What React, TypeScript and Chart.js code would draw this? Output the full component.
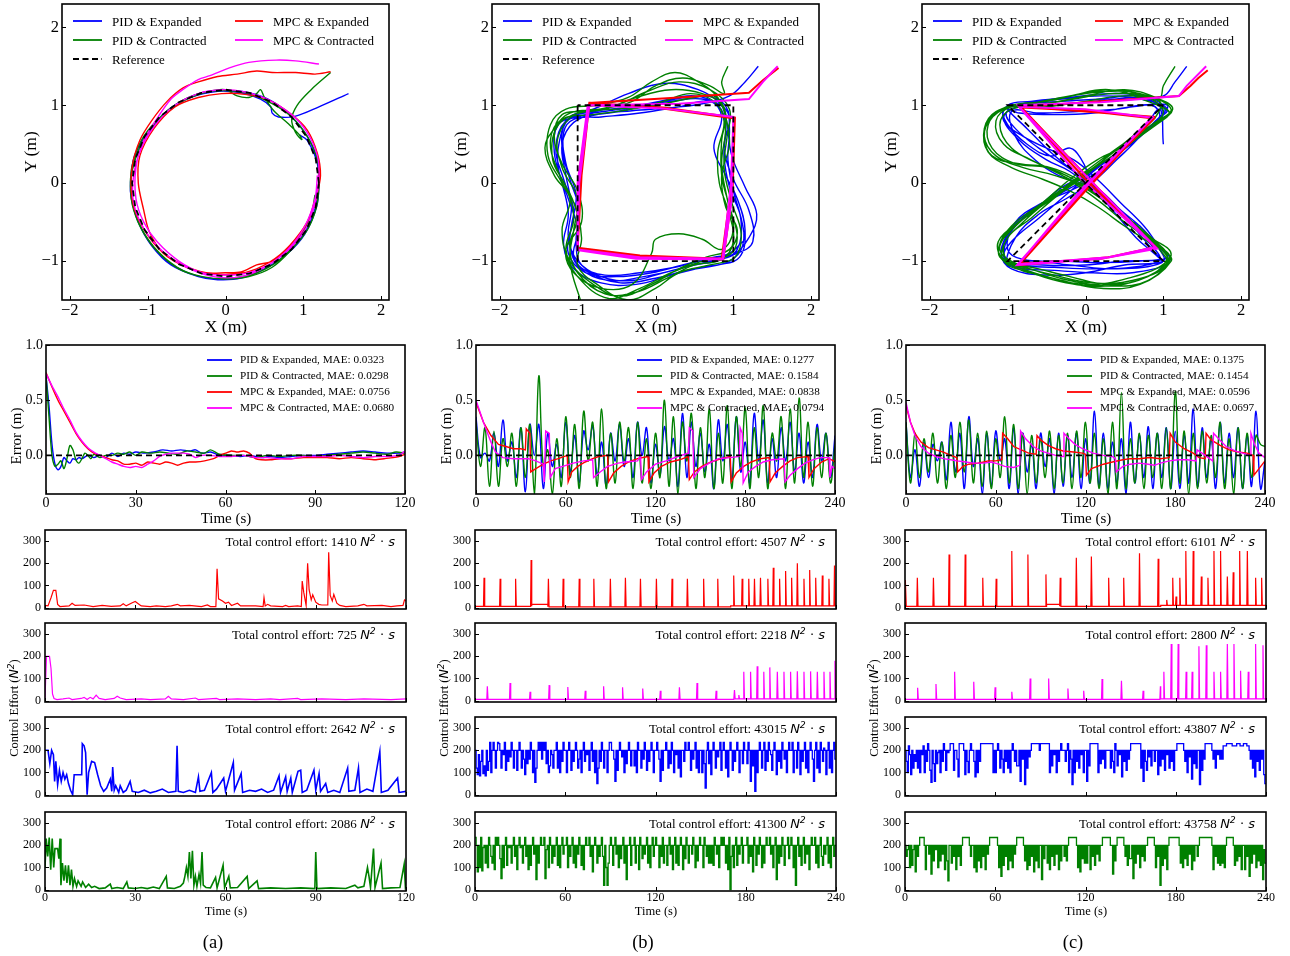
import React, { useEffect, useRef } from "react";
import { Chart, registerables } from "chart.js";
Chart.register(...registerables);

type Pt = [number, number];

const BLUE = "#0000ff";
const GREEN = "#008000";
const RED = "#ff0000";
const MAGENTA = "#ff00ff";
const SERIF = '"Liberation Serif", "Times New Roman", serif';
const MATH = '"DejaVu Sans", sans-serif';

// ---------- tick values ----------
const TRAJ_X_TICKS = [-2, -1, 0, 1, 2];
const TRAJ_Y_TICKS = [-1, 0, 1, 2];
const ERR_Y_TICKS = [0, 0.5, 1.0];
const TIME_TICKS_A = [0, 30, 60, 90, 120];
const TIME_TICKS_BC = [0, 60, 120, 180, 240];
const CTRL_Y_TICKS = [0, 100, 200, 300];

// ---------- legend / annotation text ----------
const SERIES_NAMES = ["PID & Expanded", "PID & Contracted", "MPC & Expanded", "MPC & Contracted"];
const MAE_A = ["0.0323", "0.0298", "0.0756", "0.0680"];
const MAE_B = ["0.1277", "0.1584", "0.0838", "0.0794"];
const MAE_C = ["0.1375", "0.1454", "0.0596", "0.0697"];
const EFFORT_A = [1410, 725, 2642, 2086];
const EFFORT_B = [4507, 2218, 43015, 41300];
const EFFORT_C = [6101, 2800, 43807, 43758];
const PANEL_TAGS = ["(a)", "(b)", "(c)"];

// ---------- trajectories: column (a) circle ----------
const TRAJ_A_REF: Pt[] = [[1.2,0],[1.159,0.311],[1.039,0.6],[0.849,0.849],[0.6,1.039],[0.311,1.159],[0,1.2],[-0.311,1.159],[-0.6,1.039],[-0.849,0.849],[-1.039,0.6],[-1.159,0.311],[-1.2,0],[-1.159,-0.311],[-1.039,-0.6],[-0.849,-0.849],[-0.6,-1.039],[-0.311,-1.159],[0,-1.2],[0.311,-1.159],[0.6,-1.039],[0.849,-0.849],[1.039,-0.6],[1.159,-0.311],[1.2,0]];
const TRAJ_A_BLUE: Pt[] = [[1.58,1.15],[1.2,0.98],[0.9,0.86],[0.68,0.85],[0.6,0.9],[0.58,0.98],[0.45,1.08],[0.2,1.16],[-0.1,1.18],[-0.45,1.1],[-0.75,0.93],[-1.0,0.65],[-1.17,0.35],[-1.22,0.0],[-1.21,-0.2],[-1.12,-0.5],[-0.95,-0.8],[-0.7,-1.05],[-0.35,-1.2],[-0.1,-1.24],[0.2,-1.22],[0.5,-1.1],[0.8,-0.9],[1.02,-0.65],[1.17,-0.3],[1.2,0.0],[1.18,0.3],[1.05,0.6],[0.85,0.85],[0.6,1.05],[0.3,1.16],[0.0,1.19],[-0.3,1.16],[-0.6,1.03],[-0.85,0.82],[-1.05,0.55],[-1.18,0.25],[-1.22,-0.05],[-1.15,-0.42],[-1.0,-0.72],[-0.75,-1.0],[-0.4,-1.18],[0.0,-1.23],[0.35,-1.17],[0.7,-0.98],[0.95,-0.73],[1.12,-0.42],[1.19,-0.1],[1.18,0.25],[1.05,0.55],[0.95,0.62]];
const TRAJ_A_GREEN: Pt[] = [[1.35,1.42],[1.1,1.2],[0.92,1.0],[0.85,0.82],[0.9,0.65],[0.98,0.56],[0.95,0.62],[0.8,0.77],[0.62,0.93],[0.5,1.1],[0.45,1.2],[0.4,1.15],[0.3,1.1],[0.15,1.12],[0.0,1.2],[-0.2,1.18],[-0.5,1.08],[-0.8,0.88],[-1.05,0.6],[-1.18,0.3],[-1.22,0.05],[-1.2,-0.25],[-1.1,-0.55],[-0.9,-0.85],[-0.6,-1.1],[-0.3,-1.2],[0.0,-1.23],[0.3,-1.2],[0.6,-1.08],[0.85,-0.85],[1.05,-0.6],[1.17,-0.3],[1.2,0.0],[1.18,0.3],[1.05,0.6],[0.85,0.85],[0.6,1.02],[0.3,1.15],[0.0,1.19],[-0.3,1.16],[-0.62,1.02],[-0.88,0.8],[-1.08,0.5],[-1.2,0.15],[-1.21,-0.2],[-1.12,-0.5],[-0.92,-0.82],[-0.62,-1.08],[-0.3,-1.2],[0.05,-1.22],[0.4,-1.15],[0.7,-0.98],[0.95,-0.7],[1.1,-0.4],[1.15,-0.15]];
const TRAJ_A_RED: Pt[] = [[1.35,1.43],[1.15,1.4],[0.9,1.42],[0.6,1.42],[0.4,1.44],[0.15,1.4],[-0.1,1.37],[-0.35,1.3],[-0.55,1.22],[-0.75,1.05],[-0.95,0.8],[-1.1,0.55],[-1.2,0.2],[-1.2,-0.2],[-1.1,-0.5],[-0.85,-0.85],[-0.55,-1.05],[-0.25,-1.15],[0.0,-1.15],[0.2,-1.14],[0.4,-1.05],[0.6,-1.0],[0.85,-0.8],[1.05,-0.5],[1.17,-0.15],[1.22,0.1],[1.18,0.38],[1.05,0.68],[0.85,0.88],[0.55,1.07],[0.25,1.14],[-0.05,1.15],[-0.35,1.1],[-0.65,0.98],[-0.92,0.7],[-1.1,0.35],[-1.12,0.0],[-1.05,-0.35],[-0.98,-0.62],[-0.8,-0.9],[-0.5,-1.08],[-0.2,-1.16],[0.1,-1.17],[0.4,-1.1],[0.7,-0.92],[0.95,-0.65],[1.12,-0.35],[1.2,0.0],[1.2,0.3]];
const TRAJ_A_MAGENTA: Pt[] = [[1.2,1.53],[0.9,1.57],[0.65,1.58],[0.3,1.55],[0.05,1.48],[-0.2,1.38],[-0.35,1.33],[-0.55,1.2],[-0.7,1.08],[-0.9,0.8],[-1.05,0.55],[-1.15,0.2],[-1.15,-0.2],[-1.05,-0.5],[-0.88,-0.75],[-0.6,-1.0],[-0.3,-1.15],[0.0,-1.18],[0.3,-1.15],[0.6,-1.02],[0.85,-0.82],[1.05,-0.55],[1.15,-0.25],[1.2,0.05],[1.18,0.35],[1.05,0.65],[0.85,0.88],[0.55,1.07],[0.25,1.17],[-0.05,1.2],[-0.35,1.15],[-0.65,1.0],[-0.9,0.75],[-1.08,0.45],[-1.18,0.1],[-1.18,-0.25],[-1.05,-0.58],[-0.8,-0.88],[-0.5,-1.08],[-0.15,-1.2],[0.2,-1.2],[0.5,-1.08],[0.8,-0.85],[1.02,-0.55],[1.15,-0.2],[1.18,0.1]];

// ---------- trajectories: column (b) square ----------
const TRAJ_B_REF: Pt[] = [[-1,1],[-1,-1],[1,-1],[1,1],[-1,1]];
const TRAJ_B_BLUE: Pt[] = [[1.32,1.5],[1.15,1.3],[0.95,1.12],[0.6,1.02],[0.2,0.97],[-0.3,0.93],[-0.75,0.88],[-1.05,0.78],[-1.2,0.5],[-1.15,0.1],[-1.08,-0.3],[-1.12,-0.7],[-1.0,-1.0],[-0.7,-1.2],[-0.3,-1.25],[0.1,-1.15],[0.5,-1.05],[0.85,-0.98],[1.05,-0.85],[1.1,-0.5],[1.0,-0.1],[0.93,0.3],[0.95,0.7],[0.9,0.95],
  [0.6,1.08],[0.2,1.05],[-0.3,0.98],[-0.8,0.92],[-1.15,0.8],[-1.28,0.45],[-1.18,0.05],[-1.05,-0.35],[-1.1,-0.75],[-0.98,-1.08],[-0.6,-1.25],[-0.15,-1.2],[0.3,-1.1],[0.7,-1.0],[1.0,-0.92],[1.2,-0.7],[1.3,-0.4],[1.15,-0.05],[0.98,0.35],[0.92,0.75],[0.85,1.0],
  [0.55,1.2],[0.1,1.28],[-0.35,1.15],[-0.8,0.95],[-1.1,0.85],[-1.22,0.6],[-1.25,0.2],[-1.12,-0.2],[-1.0,-0.6],[-1.05,-0.95],[-0.85,-1.15],[-0.45,-1.28],[0.0,-1.22],[0.4,-1.12],[0.8,-1.05],[1.08,-0.95],[1.15,-0.6],[1.05,-0.2],[0.9,0.1],[0.75,0.45],[0.85,0.85],
  [0.7,1.05],[0.3,0.98],[-0.2,0.9],[-0.7,0.85],[-1.05,0.82],[-1.18,0.65],[-1.15,0.25],[-1.02,-0.15],[-1.08,-0.55],[-1.12,-0.9],[-0.9,-1.15],[-0.5,-1.2],[-0.05,-1.15],[0.35,-1.05],[0.75,-0.95],[1.05,-0.9],[1.25,-0.75],[1.2,-0.35],[1.0,0.05],[0.88,0.45],[0.95,0.85],
  [0.8,1.08],[0.4,1.1],[-0.1,1.0],[-0.6,0.9],[-1.0,0.85],[-1.25,0.75],[-1.3,0.4],[-1.2,0.0],[-1.12,-0.4],[-1.18,-0.8],[-1.05,-1.1],[-0.7,-1.28],[-0.25,-1.3],[0.2,-1.18],[0.6,-1.08],[0.95,-1.0],[1.12,-0.8],[1.1,-0.45],[0.95,-0.05],[0.88,0.35],[0.9,0.75],[0.8,1.0],
  [0.5,1.12],[0.05,1.05],[-0.45,0.95],[-0.9,0.88],[-1.15,0.78],[-1.2,0.45],[-1.1,0.05],[-0.98,-0.35],[-1.02,-0.75],[-0.95,-1.05],[-0.65,-1.18],[-0.2,-1.15],[0.25,-1.08],[0.65,-0.98],[0.95,-0.9],[1.12,-0.75]];
const TRAJ_B_GREEN: Pt[] = [[0.93,1.5],[0.85,1.3],[0.88,1.15],[0.7,1.25],[0.35,1.35],[0.0,1.25],[-0.3,1.05],[-0.7,0.95],[-1.1,0.9],[-1.3,0.7],[-1.42,0.45],[-1.3,0.1],[-1.1,-0.2],[-1.2,-0.6],[-1.1,-1.0],[-0.8,-1.3],[-0.45,-1.45],[-0.05,-1.3],[0.3,-1.1],[0.65,-0.95],[0.95,-0.85],[1.05,-0.6],[0.9,-0.3],[0.85,0.1],[0.95,0.5],[0.9,0.85],[0.8,1.1],
  [0.55,1.3],[0.25,1.42],[-0.05,1.3],[-0.35,1.1],[-0.75,1.0],[-1.15,0.95],[-1.35,0.75],[-1.38,0.35],[-1.2,0.0],[-1.0,-0.4],[-1.1,-0.8],[-1.0,-1.15],[-0.65,-1.42],[-0.25,-1.4],[0.15,-1.22],[0.5,-1.05],[0.85,-0.98],[1.0,-0.75],[0.95,-0.4],[0.82,0.0],[0.8,0.4],[0.88,0.8],[0.75,1.05],
  [0.45,1.15],[0.1,1.05],[-0.3,0.95],[-0.8,0.88],[-1.2,0.82],[-1.35,0.55],[-1.25,0.15],[-1.05,-0.25],[-0.95,-0.7],[-1.0,-1.05],[-0.75,-1.3],[-0.35,-1.5],[0.0,-1.35],[0.3,-1.15],[0.7,-1.05],[1.02,-0.95],[1.1,-0.65],[0.98,-0.25],[0.88,0.2],[0.92,0.6],[0.95,0.95],
  [0.7,1.2],[0.3,1.3],[-0.1,1.18],[-0.5,1.0],[-0.9,0.92],[-1.2,0.88],[-1.3,0.6],[-1.2,0.25],[-1.0,-0.1],[-0.95,-0.5],[-1.15,-0.85],[-1.05,-1.15],[-0.7,-1.35],[-0.3,-1.3],[-0.05,-0.9],[0.0,-0.72],[0.3,-0.65],[0.6,-0.72],[0.85,-0.85],[1.0,-0.6],[0.92,-0.2],[0.85,0.25],[0.9,0.7],[0.85,1.0],
  [0.6,1.15],[0.2,1.2],[-0.25,1.1],[-0.65,0.95],[-1.05,0.88],[-1.28,0.7],[-1.32,0.3],[-1.15,-0.05],[-1.05,-0.45],[-1.15,-0.85],[-1.0,-1.2],[-0.6,-1.48],[-0.2,-1.35],[0.2,-1.15],[0.6,-1.0],[0.95,-0.92],[1.05,-0.7],[0.95,-0.3],[0.85,0.1],[0.85,0.55],[0.9,0.9],[0.75,1.12],
  [0.5,1.1],[0.0,1.0],[-0.5,0.95],[-1.0,0.9],[-1.25,0.6],[-1.2,0.2],[-1.0,-0.2],[-1.05,-0.6],[-1.1,-1.0],[-0.95,-1.55]];
const TRAJ_B_RED: Pt[] = [[1.58,1.48],[1.38,1.32],[1.2,1.16],[0.3,1.1],[-0.85,1.03],[-0.97,0.2],[-1.0,-0.83],[-0.2,-0.93],[0.85,-0.97],[0.98,0.0],[1.02,0.83],[0.0,0.97],[-0.85,1.03],[-0.95,0.1],[-1.0,-0.84],[-0.15,-0.95],[0.87,-0.98],[0.99,-0.1],[1.02,0.84],[0.1,0.97],[-0.86,1.02]];
const TRAJ_B_MAGENTA: Pt[] = [[1.57,1.5],[1.5,1.43],[1.38,1.3],[1.2,1.08],[0.3,1.02],[-0.87,1.0],[-1.0,0.0],[-1.0,-0.85],[-0.2,-0.95],[0.87,-0.97],[0.98,-0.2],[1.0,0.85],[0.1,0.96],[-0.85,1.0],[-0.98,0.0],[-1.0,-0.86],[-0.25,-0.97],[0.86,-0.98],[0.97,0.0],[1.0,0.83]];

// ---------- trajectories: column (c) hourglass ----------
const TRAJ_C_REF: Pt[] = [[1,1],[-1,1],[1,-1],[-1,-1],[1,1]];
const TRAJ_C_BLUE: Pt[] = [[1.3,1.5],[1.15,1.3],[1.0,1.12],[0.6,1.1],[0.1,1.05],[-0.4,1.0],[-0.85,0.98],[-1.02,0.9],[-0.9,0.7],[-0.6,0.45],[-0.3,0.25],[0.0,0.05],[0.3,-0.2],[0.6,-0.5],[0.85,-0.8],[0.95,-0.98],[0.6,-1.08],[0.1,-1.1],[-0.4,-1.08],[-0.85,-1.05],[-1.05,-0.95],[-0.95,-0.75],[-0.6,-0.45],[-0.25,-0.15],[0.1,0.15],[0.5,0.45],[0.85,0.75],[1.02,0.95],
  [0.7,1.08],[0.2,1.12],[-0.3,1.08],[-0.8,1.02],[-1.05,0.95],[-1.0,0.75],[-0.75,0.5],[-0.45,0.35],[-0.2,0.45],[-0.05,0.3],[0.1,0.0],[0.4,-0.3],[0.75,-0.6],[0.95,-0.85],[1.0,-1.0],[0.5,-1.05],[0.0,-1.15],[-0.5,-1.18],[-0.95,-1.1],[-1.08,-0.9],[-0.95,-0.6],[-0.6,-0.3],[-0.3,-0.05],[0.0,0.1],[0.35,0.35],[0.7,0.6],[0.95,0.85],
  [0.85,1.0],[0.4,0.95],[-0.1,0.92],[-0.6,0.9],[-0.95,0.92],[-0.9,0.6],[-0.65,0.3],[-0.35,0.1],[0.05,-0.05],[0.35,-0.35],[0.65,-0.7],[0.9,-0.92],[0.95,-0.98],[0.5,-1.0],[0.0,-1.05],[-0.55,-1.05],[-1.0,-1.0],[-1.02,-0.75],[-0.8,-0.45],[-0.45,-0.2],[-0.1,0.05],[0.3,0.3],[0.65,0.55],[0.9,0.8],[1.05,0.95],
  [0.7,1.12],[0.2,1.08],[-0.3,1.05],[-0.8,1.0],[-1.05,0.85],[-0.85,0.55],[-0.5,0.3],[-0.2,0.15],[0.2,-0.15],[0.5,-0.45],[0.7,-0.55],[0.85,-0.75],[1.05,-0.95],[0.7,-1.0],[0.2,-1.02],[-0.3,-1.0],[-0.8,-0.98],[-1.0,-0.85],[-0.9,-0.5],[-0.55,-0.25],[-0.2,-0.1],[0.15,0.1],[0.45,0.4],[0.8,0.7],[1.0,0.9],
  [0.75,1.1],[0.3,1.15],[-0.2,1.1],[-0.7,1.05],[-1.0,1.0],[-1.05,0.8],[-0.8,0.6],[-0.5,0.45],[-0.15,0.3],[0.15,0.05],[0.45,-0.25],[0.75,-0.55],[0.9,-0.75],[1.08,-1.0],[0.6,-1.15],[0.1,-1.15],[-0.4,-1.12],[-0.9,-1.08],[-1.08,-0.95],[-1.0,-0.65],[-0.7,-0.35],[-0.35,-0.15],[0.0,0.05],[0.3,0.25],[0.6,0.55],[0.88,0.78],[1.05,1.0],
  [0.6,0.98],[0.1,0.9],[-0.4,0.88],[-0.85,0.9],[-1.0,0.95],[-0.75,0.7],[-0.45,0.4],[-0.15,0.15],[0.2,-0.1],[0.45,-0.35],[0.65,-0.6],[0.88,-0.88],[0.98,-1.02],[0.4,-1.1],[-0.2,-1.05],[-0.7,-1.0],[-1.0,-1.05],[-0.9,-0.7],[-0.6,-0.4],[-0.25,-0.2],[0.1,0.02],[0.4,0.3],[0.7,0.6],[0.95,0.95],[1.0,0.5]];
const TRAJ_C_GREEN: Pt[] = [[1.15,1.5],[1.0,1.25],[0.95,1.1],[0.5,1.18],[0.0,1.15],[-0.5,1.05],[-0.95,1.0],[-1.2,0.85],[-1.3,0.6],[-1.15,0.35],[-0.8,0.2],[-0.4,0.1],[0.0,-0.05],[0.35,-0.3],[0.65,-0.55],[0.9,-0.75],[1.05,-0.95],[0.8,-1.2],[0.3,-1.3],[-0.2,-1.2],[-0.6,-1.1],[-1.0,-1.0],[-1.12,-0.85],[-0.95,-0.6],[-0.6,-0.3],[-0.2,0.0],[0.2,0.3],[0.55,0.55],[0.85,0.75],[1.08,0.9],
  [0.8,1.05],[0.3,1.2],[-0.2,1.12],[-0.7,1.02],[-1.05,0.95],[-1.25,0.75],[-1.2,0.45],[-0.9,0.25],[-0.5,0.2],[-0.15,0.0],[0.2,-0.25],[0.5,-0.5],[0.8,-0.7],[1.0,-0.85],[1.1,-1.0],[0.7,-1.3],[0.2,-1.35],[-0.3,-1.25],[-0.75,-1.12],[-1.1,-0.95],[-1.05,-0.7],[-0.8,-0.45],[-0.45,-0.2],[-0.1,0.05],[0.3,0.35],[0.6,0.6],[0.9,0.85],
  [0.95,1.05],[0.5,1.12],[0.0,1.05],[-0.5,0.98],[-0.95,0.95],[-1.1,0.75],[-0.95,0.45],[-0.6,0.25],[-0.25,0.1],[0.1,-0.1],[0.45,-0.4],[0.75,-0.65],[0.95,-0.85],[1.05,-1.05],[0.6,-1.25],[0.1,-1.28],[-0.4,-1.18],[-0.85,-1.05],[-1.1,-0.85],[-0.95,-0.55],[-0.55,-0.25],[-0.2,0.05],[0.15,0.3],[0.55,0.5],[0.85,0.75],[1.1,0.95],
  [0.7,1.15],[0.2,1.18],[-0.3,1.1],[-0.8,1.0],[-1.15,0.92],[-1.3,0.7],[-1.25,0.4],[-0.95,0.2],[-0.55,0.05],[-0.2,-0.1],[0.15,-0.3],[0.5,-0.55],[0.8,-0.75],[1.08,-0.95],[0.75,-1.22],[0.25,-1.32],[-0.25,-1.28],[-0.7,-1.15],[-1.05,-1.0],[-1.0,-0.7],[-0.7,-0.45],[-0.35,-0.15],[0.0,0.1],[0.35,0.4],[0.7,0.65],[1.0,0.9],
  [0.8,1.1],[0.35,1.15],[-0.15,1.08],[-0.65,1.0],[-1.0,0.98],[-1.22,0.85],[-1.3,0.6],[-1.2,0.35],[-0.85,0.25],[-0.45,0.2],[-0.1,0.05],[0.25,-0.2],[0.55,-0.45],[0.85,-0.7],[1.1,-0.92],[0.8,-1.25],[0.3,-1.32],[-0.2,-1.25],[-0.65,-1.12],[-1.05,-0.98],[-1.12,-0.75],[-0.85,-0.5],[-0.5,-0.25],[-0.15,0.0],[0.2,0.25],[0.5,0.45],[0.85,0.72],[1.12,0.95],[0.9,1.1],
  [0.5,1.2],[0.0,1.12],[-0.5,1.02],[-0.95,0.98],[-1.15,0.8],[-1.05,0.5],[-0.7,0.3],[-0.3,0.1],[0.05,-0.1],[0.4,-0.35],[0.7,-0.6],[0.95,-0.82],[1.05,-1.0],[0.55,-1.22],[0.0,-1.3],[-0.5,-1.2],[-0.95,-1.05],[-1.05,-0.8],[-0.8,-0.5],[-0.45,-0.2],[-0.05,0.1],[0.35,0.35],[0.7,0.6],[1.05,0.85]];
const TRAJ_C_RED: Pt[] = [[1.57,1.45],[1.45,1.35],[1.35,1.25],[1.2,1.12],[0.2,1.05],[-0.85,0.98],[0.0,0.05],[0.9,-0.82],[0.3,-0.95],[-0.85,-1.05],[0.0,-0.1],[0.88,0.85],[0.0,0.92],[-0.83,0.98],[0.05,0.05],[0.9,-0.83],[0.2,-0.97],[-0.85,-1.03],[0.02,-0.05],[0.88,0.83],[0.0,0.93],[-0.82,0.97]];
const TRAJ_C_MAGENTA: Pt[] = [[1.55,1.5],[1.3,1.25],[1.2,1.12],[0.2,1.04],[-0.87,1.0],[-0.05,0.05],[0.92,-0.84],[0.2,-0.97],[-0.88,-1.05],[0.05,0.0],[0.86,0.84],[0.0,0.95],[-0.85,0.98],[0.02,0.08],[0.9,-0.82],[0.3,-0.95],[-0.86,-1.04],[-0.03,-0.05],[0.87,0.86]];

// ---------- tracking error ----------
const ERR_REF_A: Pt[] = [[0,0],[120,0]];
const ERR_REF_BC: Pt[] = [[0,0],[240,0]];
const ERR_A_BLUE: Pt[] = [[0,0.72],[1,0.45],[2,0.1],[3,-0.08],[4,-0.13],[5,-0.1],[6,-0.02],[7,-0.05],[8,-0.07],[9,-0.03],[10,-0.04],[11,-0.02],[12,-0.03],[14,0.0],[16,-0.02],[18,0.0],[20,-0.02],[22,0.02],[24,-0.01],[26,0.02],[28,0.01],[30,0.03],[33,0.02],[36,0.03],[39,0.05],[42,0.04],[45,0.05],[48,0.04],[50,0.05],[52,0.02],[55,0.03],[58,0.0],[62,0.0],[65,-0.01],[68,0.0],[72,-0.02],[75,-0.01],[78,-0.02],[82,-0.01],[86,0.0],[90,0.0],[94,0.01],[98,0.02],[102,0.03],[106,0.04],[110,0.03],[114,0.02],[118,0.02],[120,0.03]];
const ERR_A_GREEN: Pt[] = [[0,0.72],[1,0.35],[2,0.0],[3,-0.1],[4,-0.08],[5,-0.05],[6,-0.12],[7,-0.03],[8,0.09],[9,0.05],[10,-0.04],[11,-0.07],[12,-0.03],[13,0.02],[14,0.0],[15,-0.03],[16,0.01],[18,-0.02],[20,0.0],[22,0.0],[24,0.02],[26,0.01],[28,0.03],[30,0.0],[32,0.03],[35,0.02],[38,0.03],[41,0.02],[44,0.01],[47,0.04],[50,0.03],[53,0.02],[55,0.05],[58,0.01],[62,0.0],[66,0.0],[70,-0.02],[74,0.0],[78,-0.01],[82,0.0],[86,0.0],[90,-0.01],[94,0.0],[98,0.01],[102,0.02],[106,0.03],[110,0.02],[114,0.01],[117,0.03],[120,0.02]];
const ERR_A_RED: Pt[] = [[0,0.75],[2,0.62],[4,0.5],[6,0.4],[8,0.3],[10,0.2],[12,0.12],[14,0.06],[16,0.02],[18,0.0],[20,-0.02],[22,-0.04],[24,-0.05],[26,-0.08],[28,-0.08],[30,-0.07],[32,-0.09],[34,-0.06],[36,-0.07],[38,-0.08],[40,-0.06],[42,-0.07],[44,-0.09],[46,-0.07],[48,-0.06],[50,-0.06],[53,-0.05],[56,-0.03],[58,0.0],[60,0.02],[62,0.04],[64,0.03],[66,0.04],[68,0.02],[70,-0.03],[72,-0.04],[75,-0.04],[78,-0.03],[82,-0.03],[86,-0.02],[90,-0.02],[94,-0.02],[98,-0.03],[102,-0.02],[106,-0.03],[110,-0.04],[113,-0.03],[116,-0.02],[118,-0.01],[120,0.01]];
const ERR_A_MAGENTA: Pt[] = [[0,0.74],[2,0.63],[4,0.53],[6,0.42],[8,0.32],[10,0.21],[12,0.13],[14,0.07],[16,0.03],[18,0.0],[20,-0.03],[22,-0.06],[24,-0.08],[26,-0.1],[28,-0.11],[30,-0.1],[32,-0.11],[34,-0.08],[36,-0.05],[38,-0.01],[40,0.01],[42,0.02],[44,0.02],[46,0.02],[48,0.01],[50,-0.02],[52,0.0],[55,0.0],[58,-0.01],[62,-0.01],[66,0.0],[70,-0.02],[74,-0.02],[78,-0.03],[82,-0.03],[86,-0.01],[90,-0.01],[94,-0.01],[98,0.0],[102,-0.01],[106,-0.02],[110,-0.01],[114,-0.01],[118,0.0],[120,0.04]];

const ERR_STEP = 3; // seconds between samples of the PID error series below
const ERR_B_BLUE = [0.35,-0.02,0.02,-0.05,0.2,-0.1,0.32,-0.05,0.12,-0.2,0.25,-0.33,0.28,0.0,0.28,-0.3,0.2,-0.1,0.1,-0.2,0.3,-0.15,0.18,-0.25,0.22,0.05,0.27,-0.18,0.12,-0.27,0.2,-0.05,0.28,-0.1,0.15,-0.2,0.3,0.0,0.25,-0.25,0.1,-0.18,0.26,-0.05,0.15,-0.28,0.38,-0.2,0.3,-0.1,0.2,-0.15,0.1,-0.3,0.32,-0.05,0.28,-0.22,0.35,-0.15,0.12,-0.25,0.38,-0.05,0.32,-0.25,0.15,-0.2,0.25,-0.05,0.3,-0.15,0.2,-0.25,0.12,-0.2,0.28,-0.05,0.2,-0.2,0.18];
const ERR_B_GREEN = [0.3,-0.1,0.25,-0.28,0.22,-0.28,0.15,-0.1,0.2,-0.28,0.25,-0.2,0.28,-0.35,0.72,-0.1,0.05,-0.35,0.15,-0.28,0.35,-0.2,0.28,-0.3,0.4,-0.05,0.3,-0.28,0.42,-0.3,0.2,-0.25,0.3,-0.05,0.25,-0.3,0.3,-0.25,0.15,-0.3,0.2,-0.2,0.5,-0.28,0.35,-0.35,0.3,-0.05,0.38,-0.3,0.25,-0.2,0.42,-0.3,0.2,-0.25,0.45,-0.3,0.35,-0.1,0.43,-0.3,0.25,-0.2,0.45,-0.3,0.2,-0.05,0.35,-0.3,0.42,-0.25,0.52,-0.2,0.3,-0.28,0.25,-0.2,0.2,-0.25,0.1];
const ERR_B_RED: Pt[] = [[0,0.48],[5,0.3],[10,0.18],[15,0.1],[20,0.08],[25,0.06],[30,0.06],[33,0.05],[33.6,0.24],[36,0.2],[36.6,-0.15],[40,-0.12],[45,-0.08],[50,-0.05],[55,-0.03],[61,0.0],[61.6,-0.24],[64,-0.15],[68,-0.1],[73,-0.06],[78,-0.03],[82,-0.01],[88,0.0],[88.6,-0.24],[92,-0.16],[97,-0.1],[102,-0.06],[108,-0.03],[115,-0.01],[115.6,-0.24],[119,-0.16],[124,-0.1],[130,-0.06],[136,-0.04],[142,-0.01],[142.6,-0.22],[146,-0.15],[151,-0.1],[157,-0.06],[164,-0.03],[170,-0.01],[170.6,-0.24],[174,-0.16],[179,-0.1],[184,-0.06],[190,-0.03],[196,-0.02],[196.6,-0.24],[200,-0.16],[205,-0.1],[210,-0.05],[215,-0.02],[222,-0.01],[222.6,-0.2],[226,-0.12],[231,-0.06],[236,-0.03],[239,-0.05],[240,-0.06]];
const ERR_B_MAGENTA: Pt[] = [[0,0.5],[5,0.3],[10,0.12],[13,0.03],[18,-0.02],[25,-0.03],[30,-0.03],[35,-0.03],[40,-0.05],[45,-0.08],[45.6,-0.24],[46.6,0.22],[49,0.2],[49.6,-0.2],[53,-0.12],[58,-0.1],[65,-0.07],[72,-0.05],[78,-0.04],[78.6,-0.2],[83,-0.15],[88,-0.1],[95,-0.07],[100,-0.06],[108,-0.05],[110,0.0],[110.6,-0.22],[114,-0.15],[120,-0.08],[127,-0.05],[135,-0.01],[142,0.02],[142.6,0.25],[145,0.22],[145.6,-0.2],[150,-0.12],[156,-0.07],[162,-0.03],[170,-0.02],[176,-0.01],[176.6,0.25],[178,0.2],[178.6,-0.25],[182,-0.15],[187,-0.1],[192,-0.06],[198,-0.04],[206,-0.03],[206.6,-0.24],[210,-0.18],[215,-0.12],[220,-0.07],[225,-0.04],[230,-0.02],[236,-0.02],[236.6,-0.2],[238,-0.1],[240,-0.12]];
const ERR_C_BLUE = [0.3,-0.2,0.05,-0.28,0.12,-0.2,0.1,-0.05,0.12,-0.22,0.3,-0.15,0.2,-0.3,0.35,-0.1,0.15,-0.35,0.2,-0.28,0.22,-0.05,0.15,-0.3,0.25,-0.35,0.2,-0.15,0.1,-0.3,0.2,-0.1,0.15,-0.35,0.2,-0.28,0.18,-0.2,0.2,-0.3,0.15,-0.25,0.4,-0.28,0.2,-0.3,0.12,-0.25,0.15,-0.35,0.3,-0.25,0.18,-0.2,0.26,-0.3,0.2,-0.2,0.25,-0.3,0.22,-0.3,0.18,-0.25,0.42,-0.28,0.25,-0.2,0.15,-0.3,0.3,-0.25,0.2,-0.2,0.25,-0.3,0.18,-0.28,0.4,-0.3,-0.05];
const ERR_C_GREEN = [0.3,-0.25,0.2,-0.2,0.15,-0.15,0.2,-0.25,0.12,-0.3,0.18,-0.2,0.3,-0.15,0.32,-0.25,0.2,-0.28,0.22,-0.3,0.15,-0.2,0.35,-0.25,0.28,-0.3,0.2,-0.35,0.18,-0.25,0.15,-0.2,0.22,-0.3,0.18,-0.25,0.2,-0.3,0.22,-0.2,0.3,-0.25,0.2,-0.3,0.15,-0.35,0.3,-0.3,0.57,-0.3,0.15,-0.25,0.2,-0.3,0.18,-0.2,0.2,-0.3,0.25,-0.3,0.58,-0.25,0.22,-0.35,0.2,-0.3,0.22,-0.25,0.18,-0.2,0.3,-0.3,0.15,-0.35,0.25,-0.3,0.2,-0.2,0.18,0.1,0.08];
const ERR_C_RED: Pt[] = [[0,0.45],[3,0.3],[6,0.2],[10,0.12],[15,0.07],[20,0.05],[25,0.03],[30,0.0],[34,-0.02],[34.6,-0.15],[38,-0.1],[42,-0.08],[48,-0.07],[52,-0.06],[55,-0.05],[60,-0.05],[64,-0.04],[64.6,0.2],[68,0.15],[72,0.08],[77,0.05],[82,0.02],[87,0.01],[87.6,0.18],[90,0.14],[95,0.09],[100,0.06],[105,0.04],[112,0.03],[118,0.02],[120,0.01],[120.6,-0.18],[124,-0.12],[128,-0.1],[132,-0.08],[138,-0.06],[145,-0.04],[150,-0.03],[156,-0.03],[163,-0.02],[170,-0.03],[176,-0.02],[176.6,0.2],[180,0.12],[186,0.06],[192,0.02],[196,-0.02],[200,-0.03],[200.6,0.2],[204,0.14],[210,0.09],[216,0.05],[222,0.03],[228,0.02],[232,0.0],[232.6,-0.18],[236,-0.12],[240,-0.05]];
const ERR_C_MAGENTA: Pt[] = [[0,0.48],[3,0.3],[6,0.18],[10,0.08],[15,0.02],[20,-0.01],[25,-0.03],[30,-0.04],[34,-0.05],[40,-0.06],[45,-0.07],[52,-0.07],[57,-0.06],[62,-0.08],[66,-0.1],[72,-0.11],[76,-0.09],[76.6,0.22],[80,0.15],[85,0.08],[90,0.04],[95,0.02],[100,0.0],[105,-0.01],[105.6,0.2],[109,0.15],[113,0.1],[118,0.06],[125,0.02],[132,0.0],[138,-0.01],[140,-0.03],[140.6,-0.15],[145,-0.1],[150,-0.08],[156,-0.07],[162,-0.08],[166,-0.09],[170,-0.07],[176,-0.05],[182,-0.04],[188,-0.04],[194,-0.05],[194.6,0.05],[200,0.0],[205,-0.05],[205.6,0.2],[209,0.15],[214,0.08],[220,0.04],[225,0.02],[230,0.0],[230.6,0.2],[233,0.1],[236,0.02],[240,-0.02]];

// ---------- control effort ----------
const CTRL_A_RED: Pt[] = [[0,10],[1,8],[2,45],[2.8,78],[3.6,78],[4.2,15],[5,5],[8,8],[9,20],[10,10],[13,12],[16,5],[19,10],[22,6],[25,8],[26,18],[27,8],[29,22],[30,28],[31,18],[32,8],[35,5],[37,8],[40,5],[42,8],[44,15],[45,8],[48,10],[52,5],[54,12],[55,5],[56.8,5],[57.2,175],[57.7,40],[59,30],[60,20],[61,25],[62,10],[64,20],[65,8],[70,8],[72.5,5],[72.8,45],[73.2,8],[74,15],[75,8],[79,5],[80,10],[81,5],[84,8],[85.2,5],[85.5,120],[86,70],[86.8,10],[87.3,200],[87.8,80],[88.5,35],[89,58],[90,25],[91,15],[92,12],[94,12],[94.3,250],[94.8,55],[95.5,30],[96,60],[97,20],[98,10],[100,5],[104,8],[106,15],[107,8],[112,10],[115,5],[117,8],[119,10],[119.5,35],[120,30]];
const CTRL_A_MAGENTA: Pt[] = [[0,10],[0.5,200],[1.5,200],[2,145],[2.5,30],[3,10],[4,5],[6,8],[8,12],[9,5],[12,10],[13,15],[14,5],[15,15],[16,8],[17,25],[18,10],[20,5],[23,10],[24,20],[25,12],[27,5],[32,8],[35,5],[40,8],[41,20],[42,8],[46,5],[50,12],[51,5],[57,10],[58,5],[64,8],[70,5],[75,8],[78,5],[84,10],[85,5],[92,8],[100,5],[106,8],[115,5],[120,8]];
const CTRL_A_BLUE: Pt[] = [[0,200],[1,200],[1.6,140],[2.2,200],[2.8,180],[3.2,60],[3.6,150],[4.2,45],[4.8,110],[5.4,60],[6,100],[6.6,70],[7.2,90],[7.8,50],[8.5,20],[9.2,0],[9.7,90],[12.2,90],[12.4,230],[13,220],[13.5,190],[14,0],[14.5,100],[15.5,150],[16.5,145],[17.5,90],[18.5,40],[19.5,15],[20.5,30],[21.7,70],[22.2,15],[22.5,125],[23,20],[23.5,40],[24.5,10],[25,40],[26,10],[27,20],[28.3,60],[29,15],[31,10],[33,20],[35,8],[37,15],[39,25],[41,10],[43.5,15],[43.9,220],[44.3,15],[46,10],[48,20],[50,10],[51,80],[51.5,15],[53,20],[55.3,100],[55.8,10],[57,25],[59.4,75],[60,15],[62.6,145],[63,20],[65.2,95],[65.7,10],[68,20],[70,15],[72,25],[74,10],[76,20],[77.8,85],[78.3,10],[80,80],[80.5,15],[81.7,75],[82.2,10],[84.1,105],[85,110],[85.5,10],[87,20],[89.4,110],[90,20],[91.1,95],[91.6,15],[93.3,50],[94,10],[96,20],[98,10],[100.6,120],[101,15],[103,20],[104.2,120],[104.7,10],[107,25],[109,15],[111.3,195],[111.8,10],[114,20],[117.2,75],[117.7,10],[120,15]];
const CTRL_A_GREEN: Pt[] = [[0,100],[0.4,230],[0.9,150],[1.4,235],[1.9,90],[2.4,230],[2.9,100],[3.3,185],[4.2,185],[4.6,140],[5,230],[5.3,20],[5.8,120],[6.3,40],[6.8,110],[7.3,30],[7.8,110],[8.3,20],[8.8,90],[9.3,15],[9.8,50],[10.5,15],[11,40],[12,15],[12.5,35],[13.5,10],[14.5,25],[15.5,10],[16.5,15],[18,5],[20,8],[21.7,25],[22.2,5],[24,10],[26,5],[27.2,35],[27.7,8],[30,5],[32,10],[34,5],[36,12],[38,5],[40.3,60],[40.7,8],[43,5],[45,15],[46,30],[46.5,60],[47,100],[47.5,60],[48,170],[48.5,50],[49,175],[49.5,20],[50,60],[50.5,15],[51.2,70],[51.7,30],[52.2,170],[52.6,20],[53.5,10],[55,8],[56.7,55],[57.2,8],[59.2,110],[59.7,10],[61.1,60],[61.6,8],[64,10],[67.2,60],[67.7,5],[70.5,40],[71,5],[75,8],[80,5],[85,8],[89.7,5],[90,170],[90.4,5],[95,8],[100,5],[103,20],[104,8],[106,15],[107.2,100],[107.7,60],[108.2,10],[109.2,185],[109.7,10],[111.7,120],[112.2,5],[115,8],[118,10],[119.4,115],[119.8,10],[120,15]];

// spikes: [time, peak]; baselines: [start time, level]
const CTRL_B_RED_SPIKES: Pt[] = [[6,135],[16.7,130],[27,130],[37.3,215],[48.8,130],[58.6,130],[69.3,130],[79,130],[90,130],[100,135],[110,130],[120.6,130],[131,130],[141.2,130],[152,130],[161.4,130],[172,145],[177.6,130],[182,130],[185.8,130],[189.8,135],[194.7,130],[198.3,180],[202.5,130],[206.5,165],[210.5,135],[214.3,200],[218.7,130],[222.5,170],[226.5,135],[230.9,145],[235.3,130],[239,190]];
const CTRL_B_RED_BASE: Pt[] = [[0,6],[37.7,15],[48.4,4],[170,8]];
const CTRL_B_MAGENTA_SPIKES: Pt[] = [[8.2,65],[23.3,80],[36.6,40],[49.3,70],[61.7,62],[73.3,45],[85.5,65],[98.1,60],[111.5,55],[123.2,45],[135.9,60],[147.6,80],[160.3,45],[172.5,48],[175.4,25],[178.7,130],[183.2,130],[187.6,155],[192,130],[196,150],[201,130],[205.4,130],[209.8,130],[214.3,132],[218.7,130],[223.1,132],[227.6,130],[232,130],[236,130],[239.3,180]];
const CTRL_B_MAGENTA_BASE: Pt[] = [[0,6],[172,8]];
const CTRL_C_RED_SPIKES: Pt[] = [[0.4,125],[8.2,135],[18.9,135],[29.3,240],[40,240],[51.7,135],[60.6,130],[71,255],[81.7,240],[93.7,150],[103.2,135],[113.9,225],[123.9,230],[135.4,135],[145.4,135],[155.9,245],[168.3,220],[174,35],[178,135],[180.2,50],[182.7,135],[186.7,255],[191.6,255],[197,140],[201.4,135],[205.4,255],[209.8,255],[214.3,140],[218.2,160],[222.5,255],[227.6,255],[233.1,135],[237.1,135]];
const CTRL_C_RED_BASE: Pt[] = [[0,6],[94.1,15],[102.8,6],[170,10]];
const CTRL_C_MAGENTA_SPIKES: Pt[] = [[8.4,58],[20.6,75],[33,130],[45.7,85],[59.9,60],[71,40],[83.2,100],[95.5,100],[108.3,55],[118.8,45],[131,98],[143.9,90],[158.3,45],[169.8,65],[172.1,130],[177,255],[181.6,255],[186.9,130],[190.9,130],[195.4,245],[200.3,250],[205.4,130],[209.8,130],[214.3,255],[218.7,255],[223.1,135],[228.2,130],[233.1,255],[238,250]];
const CTRL_C_MAGENTA_BASE: Pt[] = [[0,6],[170,8]];

const CTRL_STEP = 0.75; // seconds between samples of the dense PID effort series
const CTRL_B_BLUE = [
  200,120,90,180,85,150,200,95,130,85,200,110,150,235,100,200,235,200,120,200,
  235,230,200,120,200,180,235,110,200,150,200,170,235,200,120,200,200,110,200,235,
  200,120,200,160,90,200,140,200,160,235,200,100,200,55,120,200,235,200,235,160,
  235,200,235,140,200,100,130,200,180,120,200,200,235,120,200,100,200,150,235,200,
  200,100,200,235,200,110,200,150,200,235,200,120,160,200,100,200,235,150,200,180,
  200,110,200,235,150,200,100,200,50,120,200,150,235,200,120,200,200,100,200,235,
  235,200,200,160,60,200,110,200,235,200,170,200,100,200,140,200,235,200,130,200,
  200,130,200,100,235,200,200,120,200,160,235,200,110,200,150,200,235,200,100,200,
  200,235,200,160,60,200,110,200,200,235,200,120,200,140,235,200,100,200,180,200,
  120,200,80,200,200,150,235,200,200,235,200,110,200,160,200,235,120,200,100,200,
  200,100,200,140,30,200,235,140,200,90,200,235,200,120,200,170,200,235,110,200,
  235,200,120,200,80,200,235,200,110,200,150,200,235,200,100,200,200,140,235,200,
  200,140,235,200,60,200,130,200,15,200,100,200,235,200,120,200,235,110,200,150,
  235,200,180,110,200,235,200,90,200,150,200,120,235,200,160,200,100,200,235,200,
  200,235,100,200,200,120,235,200,90,200,150,200,235,120,200,100,200,235,200,160,
  60,200,235,120,200,100,235,200,150,210,200,90,200,235,120,200,100,200,235,160];
const CTRL_B_GREEN = [
  235,200,80,200,100,235,85,190,200,120,200,100,235,200,150,120,200,90,235,200,
  235,200,140,50,200,100,200,235,110,200,190,200,120,200,235,150,200,90,200,235,
  190,200,120,200,235,150,200,90,200,110,200,235,160,200,45,200,120,200,235,200,
  200,235,50,180,200,100,235,200,120,200,150,200,235,110,200,100,200,235,160,200,
  200,235,100,200,150,200,235,120,200,100,200,160,235,200,110,200,90,200,235,200,
  200,235,150,200,80,200,235,200,120,200,150,200,235,150,20,200,100,20,120,200,
  235,200,110,200,235,160,200,100,200,140,200,235,120,200,45,200,200,235,110,200,
  200,235,120,200,200,90,235,200,140,200,160,200,235,120,200,100,200,235,150,200,
  235,200,200,100,200,150,235,120,200,200,110,200,235,160,200,90,200,235,120,200,
  110,200,235,200,90,200,140,235,200,120,200,200,160,235,200,100,200,130,200,235,
  200,200,100,235,200,150,200,120,200,120,200,110,235,200,160,200,100,200,235,200,
  235,200,120,200,90,235,0,150,200,100,200,235,110,200,160,200,235,120,200,200,
  200,235,120,200,150,200,80,235,200,110,200,160,235,200,100,200,120,200,235,200,
  200,235,160,200,100,200,235,45,200,120,200,150,235,200,110,200,200,235,140,200,
  235,200,100,200,20,200,235,150,200,110,200,235,120,200,160,200,90,200,235,200,
  200,235,120,200,100,200,235,150,110,200,160,200,235,120,200,100,200,235,150,200];
const CTRL_C_BLUE = [
  200,150,100,220,180,90,200,120,180,150,200,120,200,100,200,180,220,100,200,150,
  230,200,110,55,200,140,60,200,140,190,200,100,200,150,230,200,110,200,190,200,
  230,230,230,110,200,200,160,80,230,230,230,230,200,90,200,150,100,200,230,200,
  200,150,80,200,100,200,150,230,230,230,230,230,230,230,230,230,230,230,100,200,
  100,200,230,200,120,200,160,100,200,150,200,120,200,100,200,230,200,150,200,130,
  130,200,60,200,160,200,45,200,120,200,170,200,230,230,230,230,230,230,230,200,
  230,230,230,230,230,230,230,230,100,200,130,200,180,200,100,200,150,200,230,200,
  200,200,150,200,230,100,200,160,45,200,100,200,150,200,120,200,180,200,100,200,
  200,60,200,130,230,230,230,230,230,230,230,100,200,140,200,160,200,120,200,200,
  200,200,120,200,150,100,230,200,130,200,180,200,80,200,150,200,110,200,160,200,
  230,230,230,230,230,230,230,230,230,120,200,60,200,150,110,200,170,200,130,200,
  200,150,200,200,90,200,130,200,160,200,110,200,180,200,120,200,150,200,110,200,
  200,230,230,230,230,230,230,200,150,200,100,200,170,200,70,200,140,200,120,200,
  200,45,200,110,200,160,230,230,230,230,230,230,200,160,200,120,200,180,200,160,
  200,160,220,220,220,230,230,230,230,230,220,220,220,220,230,230,230,220,220,220,
  230,230,230,220,220,200,160,200,120,200,80,200,150,200,110,200,160,200,90,50];
const CTRL_C_GREEN = [
  200,150,180,200,100,200,110,180,200,80,200,150,200,235,235,235,235,200,90,200,
  200,160,200,70,200,130,200,180,200,100,200,130,200,160,200,90,200,130,40,200,
  200,120,200,150,200,90,200,150,200,110,200,235,235,235,235,235,235,200,150,200,
  200,100,200,80,200,130,200,100,200,150,200,90,200,160,200,235,235,235,235,235,
  235,235,200,100,200,60,200,110,200,150,200,90,200,130,200,100,200,160,200,235,
  235,235,235,235,235,200,130,200,90,200,110,200,150,200,80,200,130,200,100,200,
  200,45,200,140,200,200,120,200,90,200,150,200,110,200,160,200,90,200,130,200,
  200,150,200,130,200,235,235,235,235,235,235,235,200,100,200,80,200,140,200,120,
  200,120,200,200,90,200,150,200,110,200,160,200,130,200,200,235,235,235,235,235,
  235,235,200,200,70,200,130,200,235,235,235,235,235,235,200,150,200,110,200,140,
  140,200,50,200,120,200,160,200,100,200,150,200,130,200,200,235,235,235,235,235,
  235,200,100,200,150,200,20,200,110,200,140,200,90,200,235,235,235,235,235,235,
  235,235,235,200,120,200,100,200,140,200,110,200,160,200,90,200,130,200,200,150,
  200,235,235,235,235,235,235,235,235,235,235,235,200,90,200,150,200,120,200,110,
  200,120,200,100,200,235,235,235,235,235,235,200,110,200,130,200,150,200,90,200,
  200,90,200,150,200,60,200,120,200,160,200,100,200,130,200,110,200,45,180,120];

// ---------- helpers that turn the arrays into Chart.js data ----------
const toXY = (pts: Pt[]) => pts.map(([x, y]) => ({ x, y }));
const sampled = (vals: number[], step: number) => vals.map((v, i) => ({ x: i * step, y: v }));
const sampledStep = (vals: number[], step: number, tEnd: number) => {
  const d = vals.map((v, i) => ({ x: i * step, y: v }));
  d.push({ x: tEnd, y: vals[vals.length - 1] });
  return d;
};
function spikeData(spikes: Pt[], base: Pt[], tEnd: number) {
  const baseAt = (t: number) => {
    let b = base[0][1];
    for (const [t0, v] of base) if (t >= t0) b = v;
    return b;
  };
  const ev: { x: number; y: number; k: number }[] = [];
  let k = 0;
  ev.push({ x: 0, y: baseAt(0), k: k++ });
  for (const [t0, v] of base.slice(1)) {
    ev.push({ x: t0, y: baseAt(t0 - 0.001), k: k++ });
    ev.push({ x: t0, y: v, k: k++ });
  }
  for (const [t, h] of spikes) {
    ev.push({ x: Math.max(0, t - 0.35), y: baseAt(t - 0.35), k: k++ });
    ev.push({ x: t, y: h, k: k++ });
    ev.push({ x: Math.min(tEnd, t + 0.45), y: baseAt(t + 0.45), k: k++ });
  }
  ev.push({ x: tEnd, y: baseAt(tEnd), k: k++ });
  ev.sort((a, b) => a.x - b.x || a.k - b.k);
  return ev.map(({ x, y }) => ({ x, y }));
}

const line = (data: any[], color: string, width: number, order: number, extra: any = {}) => ({
  data, borderColor: color, backgroundColor: color, borderWidth: width, pointRadius: 0,
  showLine: true, fill: false, order, tension: 0, ...extra,
});
const dashed = (data: any[], order = 0) =>
  line(data, "#000000", 1.8, order, { borderDash: [6, 4] });

const fmtInt = (v: number) => (v < 0 ? "\u2212" + Math.abs(v) : String(v));
const fmt1 = (v: number) => (v < 0 ? "\u2212" + Math.abs(v).toFixed(1) : v.toFixed(1));

// ---------- frame + inward ticks ----------
const framePlugin = {
  id: "frame",
  afterDatasetsDraw(chart: any, _args: any, opts: any) {
    const { ctx, chartArea: a, scales } = chart;
    ctx.save();
    ctx.strokeStyle = "#000";
    ctx.lineWidth = 1;
    ctx.beginPath();
    for (const t of scales.x.ticks) {
      const px = Math.round(scales.x.getPixelForValue(t.value)) + 0.5;
      ctx.moveTo(px, a.bottom);
      ctx.lineTo(px, a.bottom - opts.tick);
    }
    for (const t of scales.y.ticks) {
      const py = Math.round(scales.y.getPixelForValue(t.value)) + 0.5;
      ctx.moveTo(a.left, py);
      ctx.lineTo(a.left + opts.tick, py);
    }
    ctx.stroke();
    ctx.lineWidth = opts.width;
    ctx.strokeRect(a.left, a.top, a.right - a.left, a.bottom - a.top);
    ctx.restore();
  },
};

const PAD_L = 64, PAD_R = 26, PAD_T = 14, PAD_B = 34;

interface PlotSpec {
  box: [number, number, number, number];
  xr: [number, number];
  yr: [number, number];
  xTicks: number[];
  yTicks: number[];
  xLabels: boolean;
  xFont: number;
  yFont: number;
  xPad: number;
  yPad: number;
  xFmt: (v: number) => string;
  yFmt: (v: number) => string;
  datasets: any[];
}

function Plot({ spec }: { spec: PlotSpec }) {
  const ref = useRef<HTMLCanvasElement>(null);
  const [bl, bt, bw, bh] = spec.box;
  const W = bw + PAD_L + PAD_R;
  const H = bh + PAD_T + PAD_B;
  useEffect(() => {
    const chart = new Chart(ref.current as HTMLCanvasElement, {
      type: "scatter",
      data: { datasets: spec.datasets },
      options: {
        animation: false,
        responsive: false,
        maintainAspectRatio: false,
        devicePixelRatio: 1,
        events: [],
        layout: { padding: { left: 0, top: PAD_T, right: PAD_R, bottom: 0 } },
        plugins: {
          legend: { display: false },
          tooltip: { enabled: false },
          frame: { width: 1.6, tick: 4 },
        } as any,
        scales: {
          x: {
            type: "linear",
            min: spec.xr[0],
            max: spec.xr[1],
            bounds: "data",
            grid: { display: false, drawTicks: false },
            border: { display: false },
            ticks: {
              display: spec.xLabels,
              autoSkip: false,
              maxRotation: 0,
              padding: spec.xPad,
              color: "#000",
              font: { family: SERIF, size: spec.xFont },
              callback: (v: any) => spec.xFmt(Number(v)),
            },
            afterBuildTicks: (s: any) => {
              s.ticks = spec.xTicks.map((value) => ({ value }));
            },
            afterFit: (s: any) => {
              s.height = PAD_B;
              s.paddingLeft = 0;
              s.paddingRight = 0;
            },
          },
          y: {
            type: "linear",
            min: spec.yr[0],
            max: spec.yr[1],
            bounds: "data",
            grid: { display: false, drawTicks: false },
            border: { display: false },
            ticks: {
              autoSkip: false,
              padding: spec.yPad,
              color: "#000",
              font: { family: SERIF, size: spec.yFont },
              callback: (v: any) => spec.yFmt(Number(v)),
            },
            afterBuildTicks: (s: any) => {
              s.ticks = spec.yTicks.map((value) => ({ value }));
            },
            afterFit: (s: any) => {
              s.width = PAD_L;
              s.paddingTop = 0;
              s.paddingBottom = 0;
            },
          },
        },
      } as any,
      plugins: [framePlugin],
    });
    return () => chart.destroy();
  }, []);
  return (
    <canvas
      ref={ref}
      width={W}
      height={H}
      style={{ position: "absolute", left: bl - PAD_L, top: bt - PAD_T, width: W, height: H }}
    />
  );
}

// ---------- text helpers ----------
const Txt = ({ x, y, size, rot, children, align = "center" }: any) => (
  <div
    style={{
      position: "absolute",
      left: x,
      top: y,
      fontFamily: SERIF,
      fontSize: size,
      lineHeight: 1,
      whiteSpace: "nowrap",
      color: "#000",
      transform:
        (align === "center" ? "translate(-50%,-50%)" : align === "right" ? "translate(-100%,-50%)" : "translate(0,-50%)") +
        (rot ? ` rotate(${rot}deg)` : ""),
      transformOrigin: "center",
    }}
  >
    {children}
  </div>
);

const LegendLine = ({ x1, x2, y, color, dash }: any) => (
  <svg style={{ position: "absolute", left: x1, top: y - 3, overflow: "visible" }} width={x2 - x1} height={6}>
    <line x1={0} y1={3} x2={x2 - x1} y2={3} stroke={color} strokeWidth={1.8} strokeDasharray={dash ? "6 3.5" : undefined} />
  </svg>
);

const SUP = { fontSize: "0.72em", verticalAlign: "0.45em", lineHeight: 0 } as const;
const NS = () => (
  <span style={{ fontFamily: MATH, fontStyle: "italic" }}>
    N<sup style={SUP}>2</sup>
    <span style={{ fontStyle: "normal" }}>{" \u00b7 "}</span>s
  </span>
);

const COLORS = [BLUE, GREEN, RED, MAGENTA];
const COL_X = [0, 430, 860];
const CTRL_TOPS = [530, 623, 717, 812];

function ColumnTexts({ c, mae, effort }: { c: number; mae: string[]; effort: number[] }) {
  const ox = COL_X[c];
  const LF = 13;
  return (
    <>
      <Txt x={ox + 226} y={327} size={17.5}>X (m)</Txt>
      <Txt x={ox + 31} y={152} size={17.5} rot={-90}>Y (m)</Txt>
      {/* trajectory legend */}
      <LegendLine x1={ox + 73} x2={ox + 102} y={21} color={BLUE} />
      <Txt x={ox + 112} y={21} size={LF} align="left">{SERIES_NAMES[0]}</Txt>
      <LegendLine x1={ox + 73} x2={ox + 102} y={40} color={GREEN} />
      <Txt x={ox + 112} y={40} size={LF} align="left">{SERIES_NAMES[1]}</Txt>
      <LegendLine x1={ox + 73} x2={ox + 102} y={59} color="#000" dash />
      <Txt x={ox + 112} y={59} size={LF} align="left">Reference</Txt>
      <LegendLine x1={ox + 235} x2={ox + 263} y={21} color={RED} />
      <Txt x={ox + 273} y={21} size={LF} align="left">{SERIES_NAMES[2]}</Txt>
      <LegendLine x1={ox + 235} x2={ox + 263} y={40} color={MAGENTA} />
      <Txt x={ox + 273} y={40} size={LF} align="left">{SERIES_NAMES[3]}</Txt>
      {/* error plot */}
      <Txt x={ox + 16} y={436} size={15} rot={-90}>Error (m)</Txt>
      <Txt x={ox + 226} y={518} size={15}>Time (s)</Txt>
      {SERIES_NAMES.map((n, i) => (
        <React.Fragment key={n}>
          <LegendLine x1={ox + 207} x2={ox + 232} y={360 + i * 16} color={COLORS[i]} />
          <Txt x={ox + 240} y={360 + i * 16} size={11.2} align="left">{`${n}, MAE: ${mae[i]}`}</Txt>
        </React.Fragment>
      ))}
      {/* control effort */}
      {effort.map((e, i) => (
        <Txt key={i} x={ox + 395} y={CTRL_TOPS[i] + 11} size={13} align="right">
          {`Total control effort: ${e} `}
          <NS />
        </Txt>
      ))}
      <Txt x={ox + 14} y={708} size={12.5} rot={-90}>
        {"Control Effort ("}
        <span style={{ fontFamily: MATH, fontStyle: "italic" }}>
          N<sup style={SUP}>2</sup>
        </span>
        {")"}
      </Txt>
      <Txt x={ox + 226} y={911} size={12.5}>Time (s)</Txt>
      <Txt x={ox + 213} y={942} size={18.5}>{PANEL_TAGS[c]}</Txt>
    </>
  );
}

// ---------- plot specs ----------
function trajSpec(c: number, ref: Pt[], blue: Pt[], green: Pt[], red: Pt[], mag: Pt[], tPid: number, tMpc: number, wMpc: number): PlotSpec {
  const ox = COL_X[c];
  return {
    box: [ox + 62, 4, 327, 296],
    xr: [-2.1, 2.1],
    yr: [-1.5, 2.3],
    xTicks: TRAJ_X_TICKS,
    yTicks: TRAJ_Y_TICKS,
    xLabels: true,
    xFont: 16.5,
    yFont: 16.5,
    xPad: 1,
    yPad: 3,
    xFmt: fmtInt,
    yFmt: fmtInt,
    datasets: [
      dashed(toXY(ref), 0),
      line(toXY(mag), MAGENTA, wMpc, 1, { tension: tMpc }),
      line(toXY(red), RED, wMpc, 2, { tension: tMpc }),
      line(toXY(green), GREEN, 1.4, 3, { tension: tPid }),
      line(toXY(blue), BLUE, 1.4, 4, { tension: tPid }),
    ],
  };
}

function errSpec(c: number, ticks: number[], tMax: number, ref: Pt[], blue: any[], green: any[], red: Pt[], mag: Pt[], tPid: number, tMpc: number): PlotSpec {
  const ox = COL_X[c];
  return {
    box: [ox + 46, 345, 359, 149],
    xr: [0, tMax],
    yr: [-0.35, 1.0],
    xTicks: ticks,
    yTicks: ERR_Y_TICKS,
    xLabels: true,
    xFont: 14,
    yFont: 14,
    xPad: 1,
    yPad: 3,
    xFmt: fmtInt,
    yFmt: fmt1,
    datasets: [
      dashed(toXY(ref), 0),
      line(toXY(mag), MAGENTA, 1.4, 1, { tension: tMpc }),
      line(toXY(red), RED, 1.4, 2, { tension: tMpc }),
      line(green, GREEN, 1.4, 3, { tension: tPid }),
      line(blue, BLUE, 1.4, 4, { tension: tPid }),
    ],
  };
}

function ctrlSpec(c: number, row: number, ticks: number[], tMax: number, data: any[], color: string, width: number, stepped: any): PlotSpec {
  const ox = COL_X[c];
  return {
    box: [ox + 45, CTRL_TOPS[row], 361, 79],
    xr: [0, tMax],
    yr: [-6, 350],
    xTicks: ticks,
    yTicks: CTRL_Y_TICKS,
    xLabels: row === 3,
    xFont: 12,
    yFont: 12,
    xPad: 0,
    yPad: 4,
    xFmt: fmtInt,
    yFmt: fmtInt,
    datasets: [line(data, color, width, 0, { stepped })],
  };
}

const SPECS: PlotSpec[] = [
  trajSpec(0, TRAJ_A_REF, TRAJ_A_BLUE, TRAJ_A_GREEN, TRAJ_A_RED, TRAJ_A_MAGENTA, 0.35, 0.3, 1.4),
  trajSpec(1, TRAJ_B_REF, TRAJ_B_BLUE, TRAJ_B_GREEN, TRAJ_B_RED, TRAJ_B_MAGENTA, 0.4, 0, 2),
  trajSpec(2, TRAJ_C_REF, TRAJ_C_BLUE, TRAJ_C_GREEN, TRAJ_C_RED, TRAJ_C_MAGENTA, 0.4, 0, 2),
  errSpec(0, TIME_TICKS_A, 120, ERR_REF_A, toXY(ERR_A_BLUE), toXY(ERR_A_GREEN), ERR_A_RED, ERR_A_MAGENTA, 0.3, 0.2),
  errSpec(1, TIME_TICKS_BC, 240, ERR_REF_BC, sampled(ERR_B_BLUE, ERR_STEP), sampled(ERR_B_GREEN, ERR_STEP), ERR_B_RED, ERR_B_MAGENTA, 0.4, 0),
  errSpec(2, TIME_TICKS_BC, 240, ERR_REF_BC, sampled(ERR_C_BLUE, ERR_STEP), sampled(ERR_C_GREEN, ERR_STEP), ERR_C_RED, ERR_C_MAGENTA, 0.4, 0),
  ctrlSpec(0, 0, TIME_TICKS_A, 120, toXY(CTRL_A_RED), RED, 1.2, false),
  ctrlSpec(0, 1, TIME_TICKS_A, 120, toXY(CTRL_A_MAGENTA), MAGENTA, 1.2, false),
  ctrlSpec(0, 2, TIME_TICKS_A, 120, toXY(CTRL_A_BLUE), BLUE, 1.6, false),
  ctrlSpec(0, 3, TIME_TICKS_A, 120, toXY(CTRL_A_GREEN), GREEN, 1.6, false),
  ctrlSpec(1, 0, TIME_TICKS_BC, 240, spikeData(CTRL_B_RED_SPIKES, CTRL_B_RED_BASE, 240), RED, 1.2, false),
  ctrlSpec(1, 1, TIME_TICKS_BC, 240, spikeData(CTRL_B_MAGENTA_SPIKES, CTRL_B_MAGENTA_BASE, 240), MAGENTA, 1.2, false),
  ctrlSpec(1, 2, TIME_TICKS_BC, 240, sampledStep(CTRL_B_BLUE, CTRL_STEP, 240), BLUE, 1.3, true),
  ctrlSpec(1, 3, TIME_TICKS_BC, 240, sampledStep(CTRL_B_GREEN, CTRL_STEP, 240), GREEN, 1.3, true),
  ctrlSpec(2, 0, TIME_TICKS_BC, 240, spikeData(CTRL_C_RED_SPIKES, CTRL_C_RED_BASE, 240), RED, 1.2, false),
  ctrlSpec(2, 1, TIME_TICKS_BC, 240, spikeData(CTRL_C_MAGENTA_SPIKES, CTRL_C_MAGENTA_BASE, 240), MAGENTA, 1.2, false),
  ctrlSpec(2, 2, TIME_TICKS_BC, 240, sampledStep(CTRL_C_BLUE, CTRL_STEP, 240), BLUE, 1.3, true),
  ctrlSpec(2, 3, TIME_TICKS_BC, 240, sampledStep(CTRL_C_GREEN, CTRL_STEP, 240), GREEN, 1.3, true),
];

export default function App() {
  return (
    <div
      style={{
        position: "absolute",
        left: 0,
        top: 0,
        width: 1290,
        height: 956,
        background: "#fff",
        overflow: "hidden",
        fontFamily: SERIF,
      }}
    >
      {SPECS.map((s, i) => (
        <Plot key={i} spec={s} />
      ))}
      <ColumnTexts c={0} mae={MAE_A} effort={EFFORT_A} />
      <ColumnTexts c={1} mae={MAE_B} effort={EFFORT_B} />
      <ColumnTexts c={2} mae={MAE_C} effort={EFFORT_C} />
    </div>
  );
}
